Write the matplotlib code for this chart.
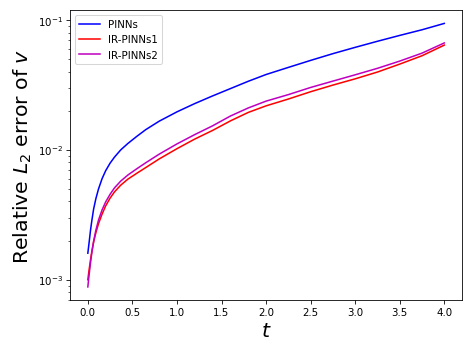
import matplotlib
matplotlib.use("Agg")
import matplotlib.pyplot as plt

t = [0, 0.015, 0.03, 0.045, 0.065, 0.09, 0.12, 0.16, 0.2, 0.25, 0.3, 0.37, 0.45, 0.55,
     0.65, 0.8, 1.0, 1.2, 1.4, 1.6, 1.8, 2.0, 2.25, 2.5, 2.75, 3.0, 3.25, 3.5, 3.75, 4.0]

pinns = [1.6e-3, 1.95e-3, 2.4e-3, 2.85e-3, 3.5e-3, 4.2e-3, 5.0e-3, 6.0e-3, 6.9e-3, 7.9e-3,
         8.8e-3, 1.0e-2, 1.12e-2, 1.27e-2, 1.43e-2, 1.66e-2, 1.96e-2, 2.27e-2, 2.6e-2,
         2.96e-2, 3.37e-2, 3.8e-2, 4.31e-2, 4.88e-2, 5.5e-2, 6.15e-2, 6.85e-2, 7.6e-2,
         8.4e-2, 9.4e-2]

ir1 = [1.0e-3, 1.2e-3, 1.42e-3, 1.65e-3, 1.95e-3, 2.3e-3, 2.7e-3, 3.2e-3, 3.7e-3, 4.25e-3,
       4.75e-3, 5.35e-3, 5.95e-3, 6.6e-3, 7.3e-3, 8.5e-3, 1.02e-2, 1.21e-2, 1.41e-2,
       1.67e-2, 1.94e-2, 2.18e-2, 2.46e-2, 2.8e-2, 3.15e-2, 3.52e-2, 3.97e-2, 4.57e-2,
       5.3e-2, 6.4e-2]

ir2 = [8.8e-4, 1.1e-3, 1.35e-3, 1.62e-3, 1.98e-3, 2.4e-3, 2.88e-3, 3.45e-3, 3.97e-3, 4.55e-3,
       5.1e-3, 5.75e-3, 6.4e-3, 7.15e-3, 7.95e-3, 9.25e-3, 1.11e-2, 1.31e-2, 1.53e-2,
       1.82e-2, 2.1e-2, 2.37e-2, 2.66e-2, 3.02e-2, 3.38e-2, 3.78e-2, 4.24e-2, 4.82e-2,
       5.55e-2, 6.65e-2]

fig = plt.figure(figsize=(6.4, 4.8), dpi=473/6.4)
ax = fig.add_axes([0.148, 0.152, 0.829, 0.817])
ax.plot(t, pinns, color="blue", lw=1.5, label="PINNs")
ax.plot(t, ir1, color="red", lw=1.5, label="IR-PINNs1")
ax.plot(t, ir2, color="m", lw=1.5, label="IR-PINNs2")
ax.set_yscale("log")
ax.set_xlabel("$t$", fontsize=20)
ax.set_ylabel("Relative $L_2$ error of $v$", fontsize=20)
ax.legend(loc="upper left")
fig.savefig("out.png", dpi=473/6.4)
